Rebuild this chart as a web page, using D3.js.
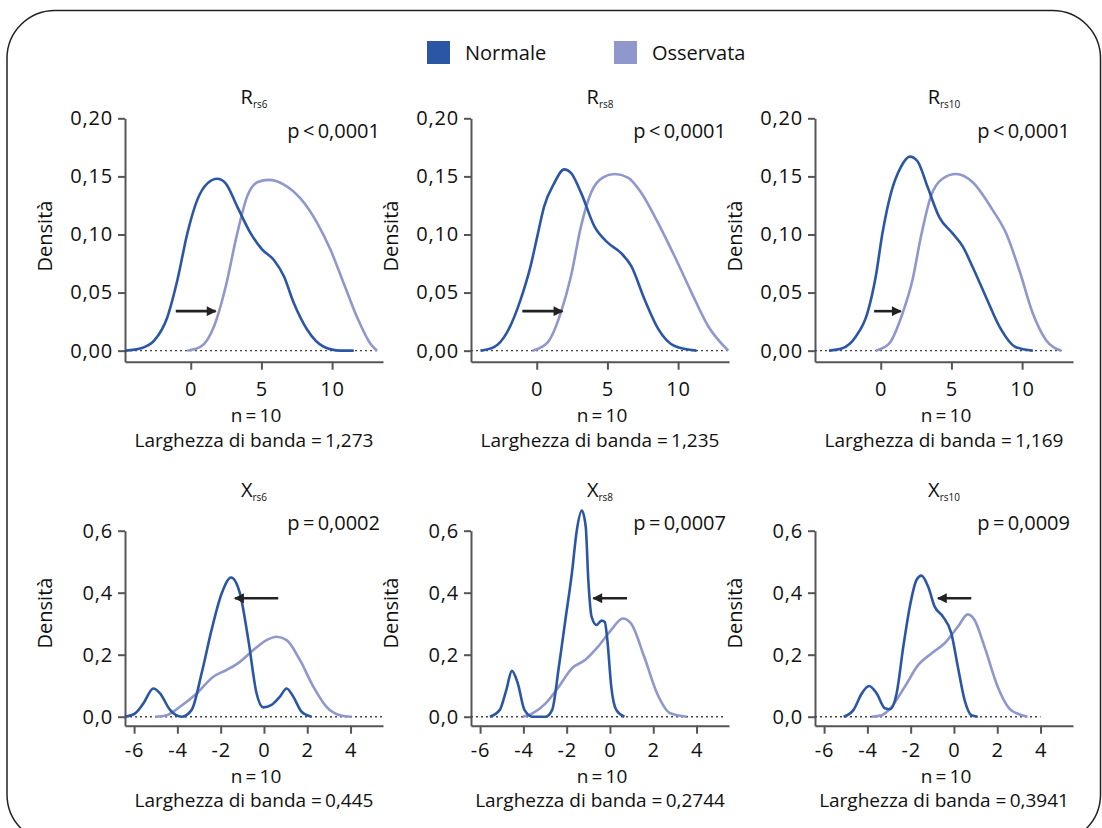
<!DOCTYPE html>
<html>
<head>
<meta charset="utf-8">
<script src="https://cdn.jsdelivr.net/npm/d3@7"></script>
<style>
  body { margin: 0; background: #fff; }
  text { font-family: "Open Sans", sans-serif; fill: #111; }
</style>
</head>
<body>
<div id="chart"></div>
<script>
// legend + panel labels
var seriesNames = ["Normale", "Osservata"];
var seriesColors = ["#2b56a6", "#8f97cd"];
var titleMain = ["R", "R", "R", "X", "X", "X"];
var titleSub = ["rs6", "rs8", "rs10", "rs6", "rs8", "rs10"];
var pLabels = ["p\u2009<\u20090,0001", "p\u2009<\u20090,0001", "p\u2009<\u20090,0001", "p\u2009=\u20090,0002", "p\u2009=\u20090,0007", "p\u2009=\u20090,0009"];
var nLabels = [10, 10, 10, 10, 10, 10];
var bandLabels = ["1,273", "1,235", "1,169", "0,445", "0,2744", "0,3941"];

var xTicksR = [0, 5, 10], yTicksR = [0, 0.05, 0.10, 0.15, 0.20];
var xTicksX = [-6, -4, -2, 0, 2, 4], yTicksX = [0, 0.2, 0.4, 0.6];

// density curves [x, density]
var normR6 = [[-4.59,0],[-3.53,0.002],[-2.59,0.0086],[-1.65,0.029],[-0.94,0.061],[-0.24,0.101],[0.47,0.130],[1.18,0.144],[1.88,0.148],[2.47,0.144],[3.29,0.124],[4.24,0.101],[5.06,0.087],[5.88,0.078],[6.59,0.064],[7.29,0.041],[8.24,0.018],[9.41,0.0034],[10.59,0],[11.53,0]];
var ossR6 = [[-0.24,0],[0.71,0.0034],[1.65,0.021],[2.47,0.055],[3.29,0.101],[4.0,0.133],[4.71,0.145],[5.53,0.147],[6.59,0.143],[7.76,0.131],[8.94,0.110],[9.88,0.087],[10.82,0.058],[11.76,0.029],[12.71,0.006],[13.18,0]];
var normR8 = [[-3.98,0],[-3.03,0.003],[-2.09,0.016],[-1.14,0.044],[-0.43,0.073],[0.05,0.099],[0.52,0.124],[1.23,0.144],[1.94,0.156],[2.42,0.153],[3.13,0.136],[4.08,0.107],[5.02,0.093],[5.97,0.084],[6.68,0.073],[7.63,0.044],[8.58,0.019],[9.76,0.004],[11.3,0]];
var ossR8 = [[-0.31,0],[0.76,0.007],[1.71,0.033],[2.42,0.064],[3.13,0.107],[3.84,0.136],[4.67,0.149],[5.5,0.152],[6.45,0.149],[7.39,0.136],[8.58,0.110],[9.76,0.081],[10.95,0.050],[12.13,0.021],[13.55,0]];
var normR10 = [[-3.66,0],[-2.72,0.002],[-1.77,0.012],[-0.95,0.032],[-0.35,0.064],[0.12,0.101],[0.71,0.135],[1.42,0.158],[2.06,0.167],[2.60,0.163],[3.31,0.141],[4.14,0.115],[5.08,0.101],[5.79,0.090],[6.5,0.072],[7.45,0.046],[8.39,0.021],[9.57,0.003],[10.76,0]];
var ossR10 = [[-0.35,0],[0.59,0.006],[1.54,0.032],[2.25,0.061],[2.84,0.098],[3.55,0.133],[4.37,0.148],[5.32,0.152],[6.5,0.145],[7.92,0.121],[8.87,0.101],[9.81,0.069],[10.76,0.032],[11.7,0.009],[12.77,0]];
var normX6 = [[-6.42,0],[-5.95,0.011],[-5.57,0.043],[-5.11,0.091],[-4.8,0.075],[-4.34,0.022],[-3.8,0],[-3.34,0.022],[-2.88,0.14],[-2.42,0.28],[-1.95,0.398],[-1.52,0.449],[-1.11,0.398],[-0.72,0.247],[-0.34,0.075],[-0.03,0.030],[0.35,0.038],[0.74,0.065],[1.05,0.091],[1.35,0.065],[1.74,0.016],[2.2,0]];
var ossX6 = [[-5.03,0],[-4.49,0.005],[-3.88,0.032],[-3.11,0.075],[-2.34,0.129],[-1.72,0.151],[-1.11,0.177],[-0.49,0.215],[0.12,0.247],[0.58,0.258],[1.05,0.247],[1.66,0.183],[2.28,0.097],[2.89,0.032],[3.51,0.005],[4.05,0]];
var normX8 = [[-5.55,0],[-5.09,0.022],[-4.79,0.086],[-4.53,0.148],[-4.26,0.108],[-3.95,0.022],[-3.58,0],[-2.97,0],[-2.67,0.022],[-2.36,0.161],[-2.06,0.312],[-1.76,0.462],[-1.53,0.602],[-1.30,0.665],[-1.12,0.613],[-1.0,0.441],[-0.85,0.323],[-0.62,0.296],[-0.39,0.310],[-0.24,0.306],[-0.12,0.247],[0.06,0.097],[0.29,0.022],[0.67,0]];
var ossX8 = [[-4.03,0],[-3.58,0.011],[-2.97,0.043],[-2.36,0.097],[-1.76,0.156],[-1.15,0.183],[-0.55,0.226],[0.06,0.28],[0.59,0.317],[0.97,0.301],[1.58,0.194],[2.18,0.075],[2.79,0.011],[3.55,0]];
var normX10 = [[-5.1,0],[-4.64,0.022],[-4.26,0.075],[-3.92,0.099],[-3.57,0.075],[-3.19,0.027],[-2.96,0.024],[-2.65,0.075],[-2.34,0.226],[-2.04,0.355],[-1.73,0.441],[-1.5,0.455],[-1.19,0.419],[-0.89,0.355],[-0.51,0.323],[-0.12,0.269],[0.18,0.161],[0.49,0.054],[0.80,0.005],[1.1,0]];
var ossX10 = [[-3.8,0],[-3.34,0.005],[-2.88,0.032],[-2.27,0.097],[-1.65,0.167],[-1.04,0.204],[-0.43,0.237],[0.18,0.290],[0.64,0.330],[0.95,0.312],[1.41,0.226],[2.02,0.097],[2.63,0.022],[3.4,0]];

// arrows [xFrom, xTo, y] in data units
var arrows = [[-1.06,1.76,0.034],[-1.02,1.82,0.034],[-0.47,1.42,0.034],[0.66,-1.34,0.382],[0.79,-0.77,0.382],[0.80,-0.74,0.382]];
var dotEnd = [13.3, 13.5, 12.8, 5.5, 5.3, 4.0];

var normals = [normR6, normR8, normR10, normX6, normX8, normX10];
var observed = [ossR6, ossR8, ossR10, ossX6, ossX8, ossX10];

(function() {
  var width = 1102, height = 828;
  var svg = d3.select("#chart").append("svg").attr("width", width).attr("height", height);

  svg.append("defs").append("marker").attr("id", "ah").attr("viewBox", "0 0 10 10")
    .attr("refX", 9).attr("refY", 5).attr("markerWidth", 4.6).attr("markerHeight", 3.8)
    .attr("markerUnits", "strokeWidth").attr("orient", "auto")
    .append("path").attr("d", "M0,0 L10,5 L0,10 z").attr("fill", "#222");

  // outer rounded frame
  svg.append("rect").attr("x", 7).attr("y", 10.5).attr("width", 1093.5).attr("height", 832)
    .attr("rx", 48).attr("ry", 48).attr("fill", "none").attr("stroke", "#222").attr("stroke-width", 1.5);

  // legend
  var legX = [427, 614];
  seriesNames.forEach(function(s, i) {
    svg.append("rect").attr("x", legX[i]).attr("y", 41).attr("width", 23).attr("height", 23).attr("fill", seriesColors[i]);
    svg.append("text").attr("x", legX[i] + 38).attr("y", 60).style("font-size", "20px").text(s);
  });

  var lefts = [125, 471, 815], plotW = 258;
  var fmt2 = function(d) { return d3.format(".2f")(d).replace(".", ","); };
  var fmt1 = function(d) { return d3.format(".1f")(d).replace(".", ","); };

  for (var k = 0; k < 6; k++) {
    var isTop = k < 3;
    var x0 = lefts[k % 3];
    var xDom = isTop ? [-4.65, 13.6] : [-6.42, 5.5];
    var yDom = isTop ? [-0.0095, 0.2] : [-0.029, 0.6];
    var yR = isTop ? [361.7, 118.3] : [725.7, 530.7];
    var x = d3.scaleLinear().domain(xDom).range([x0, x0 + plotW]);
    var y = d3.scaleLinear().domain(yDom).range(yR);
    var g = svg.append("g");

    var ya = g.append("g").attr("transform", "translate(" + x0 + ",0)")
      .call(d3.axisLeft(y).tickValues(isTop ? yTicksR : yTicksX).tickSize(7).tickSizeOuter(0).tickPadding(5).tickFormat(isTop ? fmt2 : fmt1));
    var xa = g.append("g").attr("transform", "translate(0," + yR[0] + ")")
      .call(d3.axisBottom(x).tickValues(isTop ? xTicksR : xTicksX).tickSize(8).tickSizeOuter(0).tickPadding(isTop ? 12 : 9).tickFormat(d3.format("d")));
    [ya, xa].forEach(function(a) {
      a.select(".domain").attr("stroke", "#555").attr("stroke-width", 2);
      a.selectAll(".tick line").attr("stroke", "#555").attr("stroke-width", 2);
      a.selectAll(".tick text").style("font-size", "20px").style("font-family", "Open Sans").style("letter-spacing", "0.8px").attr("fill", "#111");
    });
    xa.selectAll(".tick text").text(function(d) { return d < 0 ? "-" + Math.abs(d) : d; });

    // zero line
    g.append("line").attr("x1", x0).attr("x2", x(dotEnd[k])).attr("y1", y(0)).attr("y2", y(0))
      .attr("stroke", "#444").attr("stroke-width", 1.4).attr("stroke-dasharray", "2,3");

    var line = d3.line().x(function(d) { return x(d[0]); }).y(function(d) { return y(d[1]); }).curve(d3.curveMonotoneX);
    g.append("path").datum(observed[k]).attr("d", line).attr("fill", "none").attr("stroke", seriesColors[1]).attr("stroke-width", 2.6);
    g.append("path").datum(normals[k]).attr("d", line).attr("fill", "none").attr("stroke", seriesColors[0]).attr("stroke-width", 2.6);

    var a = arrows[k];
    g.append("line").attr("x1", x(a[0])).attr("x2", x(a[1])).attr("y1", y(a[2])).attr("y2", y(a[2]))
      .attr("stroke", "#222").attr("stroke-width", 2.6).attr("marker-end", "url(#ah)");

    var cx = x0 + plotW / 2;
    var t = g.append("text").attr("x", cx).attr("y", isTop ? 104 : 497).attr("text-anchor", "middle").style("font-size", "20px");
    t.append("tspan").text(titleMain[k]);
    t.append("tspan").attr("dy", 4).style("font-size", "10px").text(titleSub[k]);

    g.append("text").attr("x", x0 + plotW - 3).attr("y", isTop ? 138 : 530).attr("text-anchor", "end").style("font-size", "20px").text(pLabels[k]);

    g.append("text").attr("transform", "translate(" + (x0 - 73) + "," + (isTop ? 236 : 613) + ") rotate(-90)")
      .attr("text-anchor", "middle").style("font-size", "20px").text("Densità");

    g.append("text").attr("x", cx + 2).attr("y", isTop ? 422 : 783).attr("text-anchor", "middle").style("font-size", "19px").text("n\u2009=\u2009" + nLabels[k]);
    g.append("text").attr("x", cx).attr("y", isTop ? 447 : 807).attr("text-anchor", "middle").style("font-size", "19px").text("Larghezza di banda =\u2009" + bandLabels[k]);
  }
})();
</script>
</body>
</html>
